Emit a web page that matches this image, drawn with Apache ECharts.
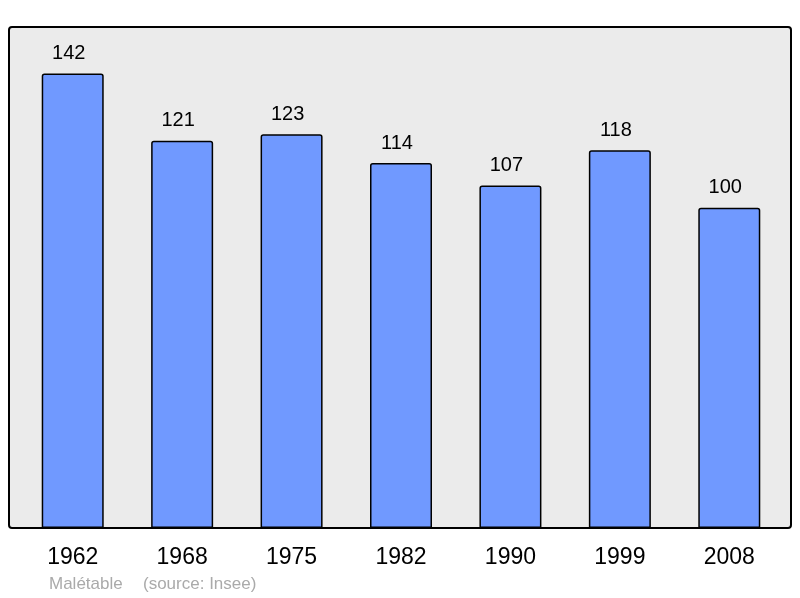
<!DOCTYPE html>
<html><head><meta charset="utf-8">
<script src="https://cdn.jsdelivr.net/npm/echarts@6/dist/echarts.min.js"></script>
<style>html,body{margin:0;padding:0;background:#fff}#c{width:800px;height:598px}</style>
</head><body><div id="c"></div>
<script>
const years = ['1962','1968','1975','1982','1990','1999','2008'];
const population = [142,121,123,114,107,118,100];
const commune = 'Malétable';
const source = '(source: Insee)';

const chart = echarts.init(document.getElementById('c'), null, {renderer:'canvas'});
chart.setOption({
  animation:false,
  backgroundColor:'#ffffff',
  graphic:[
    {type:'rect', z:-10, shape:{x:9,y:27,width:782,height:501,r:3},
     style:{fill:'#ebebeb', stroke:'#000', lineWidth:2}},
    {type:'text', left:49, top:576, style:{text:commune, fill:'#aaaaaa', font:'17px "Liberation Sans", Arial, sans-serif'}},
    {type:'text', left:143, top:576, style:{text:source, fill:'#aaaaaa', font:'17px "Liberation Sans", Arial, sans-serif'}}
  ],
  grid:{left:18, right:16, top:27, bottom:70},
  xAxis:{type:'category', data:years,
    axisLine:{show:false}, axisTick:{show:false},
    axisLabel:{color:'#000', fontSize:23, fontFamily:'"Liberation Sans", Arial, sans-serif', margin:18}},
  yAxis:{type:'value', min:0, max:156.5, show:false, splitLine:{show:false}},
  series:[{type:'bar', data:population, barWidth:62,
    itemStyle:{color:'#7099ff', borderColor:'#000', borderWidth:1.5, borderRadius:[2,2,0,0]},
    label:{show:true, position:'top', distance:10, offset:[-4,0], color:'#000', fontSize:20,
      fontFamily:'"Liberation Sans", Arial, sans-serif'}}]
});
</script></body></html>
